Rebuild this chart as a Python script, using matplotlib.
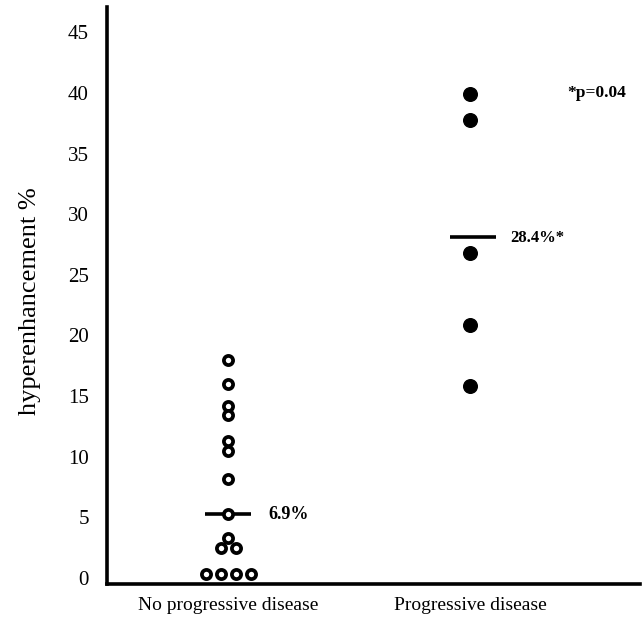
import matplotlib.pyplot as plt
import numpy as np

plt.rcParams['font.family'] = ['Liberation Serif', 'DejaVu Serif']

categories = ["No progressive disease", "Progressive disease"]
no_prog = [18.0, 16.0, 14.2, 13.4, 11.3, 10.5, 8.2, 5.3, 3.3, 2.5, 2.5, 0.3, 0.3, 0.3, 0.3]
prog = [39.9, 37.8, 26.8, 20.9, 15.8]
mean_lines = [5.3, 28.1]
mean_labels = ["6.9%", "28.4%*"]
yticks = [0, 5, 10, 15, 20, 25, 30, 35, 40, 45]


def spread(vals, center, step=0.062):
	# put equal values side by side
	xs = [0.0] * len(vals)
	seen = {}
	for i, v in enumerate(vals):
		n = vals.count(v)
		j = seen.get(v, 0)
		seen[v] = j + 1
		xs[i] = center + (j - (n - 1) / 2.0) * step
	return xs


fig = plt.figure(figsize=(6.44, 6.19), dpi=100)
ax = fig.add_axes([0.166, 0.0565, 0.828, 0.9325])

ax.plot(spread(no_prog, 1), no_prog, 'o', mfc='white', mec='black', ms=6.6, mew=2.7, ls='none', zorder=3)
ax.plot(spread(prog, 2), prog, 'o', color='black', ms=9.8, ls='none', zorder=3)

ax.hlines(mean_lines[0], 0.905, 1.095, color='black', lw=2.6, zorder=2)
ax.hlines(mean_lines[1], 1.915, 2.105, color='black', lw=2.6, zorder=2)
ax.text(1.165, mean_lines[0] - 0.1, mean_labels[0], fontsize=13, va='center', ha='left', weight='bold')
ax.text(2.165, mean_lines[1] - 0.1, mean_labels[1], fontsize=12, va='center', ha='left', weight='bold')
ax.text(2.40, 40.0, "*p=0.04", fontsize=12.5, va='center', ha='left', weight='bold')

ax.set_xlim(0.5, 2.70)
ax.set_ylim(-0.5, 47.1)
ax.set_yticks(yticks)
ax.set_yticklabels([str(t) for t in yticks], fontsize=15)
ax.set_xticks([1, 2])
ax.set_xticklabels(categories, fontsize=14)
ax.tick_params(axis='y', length=0, pad=13)
ax.tick_params(axis='x', length=0, pad=9)
ax.set_ylabel("hyperenhancement %", fontsize=19)
ax.yaxis.set_label_coords(-0.124, 0.49)

ax.spines['top'].set_visible(False)
ax.spines['right'].set_visible(False)
ax.spines['left'].set_linewidth(2.6)
ax.spines['bottom'].set_linewidth(2.6)

fig.savefig("out.png", dpi=100)
